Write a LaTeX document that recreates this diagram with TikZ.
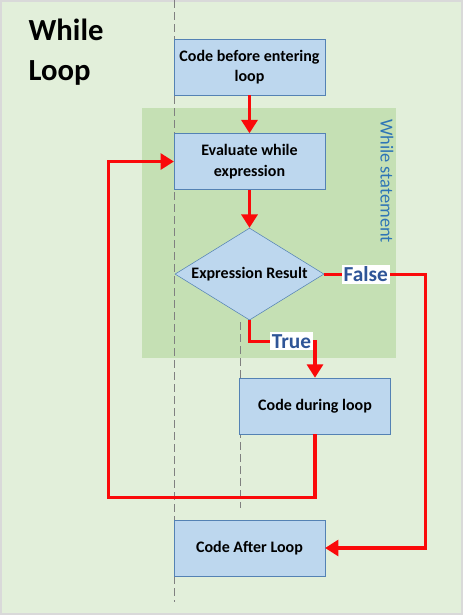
\documentclass[tikz,border=0pt]{standalone}
\usepackage{fontspec}
\setmainfont{Carlito}
\usetikzlibrary{positioning, arrows.meta, calc, shapes.geometric}
\definecolor{pagegreen}{RGB}{226,239,218}
\definecolor{loopgreen}{RGB}{197,224,180}
\definecolor{boxblue}{RGB}{189,215,238}
\definecolor{edgeblue}{RGB}{84,130,180}
\definecolor{labelblue}{RGB}{47,85,151}
\definecolor{stmtblue}{RGB}{46,117,182}
\definecolor{flowred}{RGB}{250,10,10}

\begin{document}
\begin{tikzpicture}[
  x=0.75pt, y=-0.75pt,
  node distance=28.5pt and 20pt,
  box/.style={draw=edgeblue, fill=boxblue, minimum width=113pt, minimum height=42pt,
              inner sep=2pt, align=center, font=\fontsize{12}{15.5}\selectfont\bfseries},
  test/.style={diamond, draw=edgeblue, fill=boxblue, aspect=1.62, inner sep=0pt,
               minimum width=111.75pt, minimum height=69pt, font=\fontsize{12}{15.5}\selectfont\bfseries},
  arrow/.style={-{Triangle[width=12pt, length=10pt]}, line width=2.3pt, flowred},
  lbl/.style={fill=white, text=labelblue, inner sep=1.5pt, font=\fontsize{16}{16}\selectfont\bfseries},
  lifeline/.style={dashed, dash pattern=on 6pt off 3pt, gray, line width=0.6pt}
]
  \useasboundingbox (0,0) rectangle (463,615);
  \draw[gray!30, line width=1.5pt, fill=pagegreen] (1,1) rectangle (462,614);
  \fill[loopgreen] (142,108) rectangle (396,358);
  \node[rotate=-90, text=stmtblue, font=\fontsize{13.8}{13.8}\selectfont] (stmt) at (387,181) {While statement};
  \node[anchor=north west, align=left, font=\fontsize{23}{30}\selectfont\bfseries] (title) at (24,14) {While\\Loop};

  \draw[lifeline] (174,0) -- (174,602);
  \draw[lifeline] (240,322) -- (240,508);

  \node[box] (before) at (249.5,67) {Code before entering\\loop};
  \node[box, below=of before] (eval) {Evaluate while\\expression};
  \node[test, below=of eval] (cond) {Expression Result};
  \node[box] (during) at (315,406) {Code during loop};
  \node[box] (after) at (249.5,548) {Code After Loop};

  \draw[arrow] (before) -- (eval);
  \draw[arrow] (eval) -- (cond);
  \draw[arrow] (cond.south) -- ++(0,21) -| node[lbl, pos=0.32] {True} (during.north);
  \draw[arrow] (cond.east) -- node[lbl, pos=0.41] {False} ++(101,0) |- (after.east);
  \draw[arrow] (during.south) -- ++(0,63) -| ($(eval.west)+(-65,0)$) -- (eval.west);
\end{tikzpicture}
\end{document}
